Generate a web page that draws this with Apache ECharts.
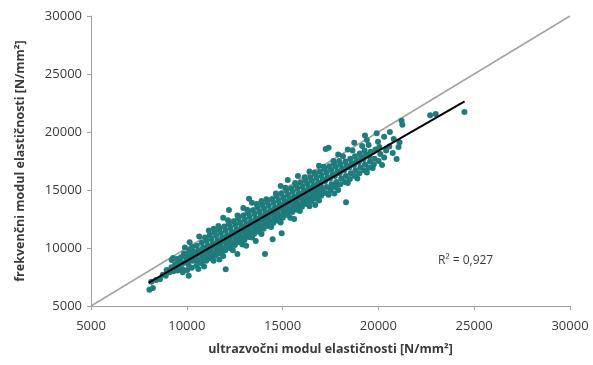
<!DOCTYPE html>
<html>
<head>
<meta charset="utf-8">
<script src="https://cdn.jsdelivr.net/npm/echarts@6/dist/echarts.min.js"></script>
<style>
  html, body { margin: 0; padding: 0; background: #fff; }
  #main { width: 593px; height: 365px; }
</style>
</head>
<body>
<div id="main"></div>
<script>
// axis ticks
var axisTicks = [5000, 10000, 15000, 20000, 25000, 30000];

// measured points [ultrazvočni, frekvenčni]
var points = [
  [8050,6400],[8230,6560],[8150,7100],[8400,7250],[8600,7300],[8750,7700],[8900,7600],[8950,8100],
  [9100,7900],[9200,8350],[9300,8000],[9400,8600],[9450,8250],[9210,8970],[9280,9140],
  [9520,8050],[9580,8550],[9490,9050],[9620,8800],
  [9760,8200],[9810,8700],[9700,9200],[9850,9500],[9790,7900],
  [10020,8100],[10080,8600],[9980,9100],[10050,9450],[10110,9800],[10000,8850],
  [10260,8300],[10300,8900],[10220,9300],[10330,9700],[10280,10100],[10200,9050],
  [10510,8500],[10550,9000],[10480,9450],[10600,9800],[10520,10200],[10450,9250],[10570,8750],
  [10760,8700],[10800,9300],[10730,9700],[10850,10050],[10780,10450],[10700,9500],[10820,8900],
  [11010,8900],[11060,9400],[10980,9850],[11100,10200],[11030,10600],[10950,10900],[11080,9150],[11000,9600],
  [11260,9100],[11300,9600],[11220,10050],[11350,10400],[11280,10800],[11200,11100],[11320,9350],[11240,9850],
  [11510,9350],[11560,9850],[11480,10300],[11600,10650],[11530,11050],[11450,11350],[11570,9600],[11490,10100],
  [11760,9550],[11800,10050],[11730,10500],[11850,10900],[11780,11300],[11700,11600],[11820,9800],[11740,10300],
  [12010,9800],[12060,10300],[11980,10750],[12100,11100],[12030,11500],[11950,11850],[12080,10050],[12000,10550],[12030,8160],
  [12260,10000],[12300,10500],[12220,11000],[12350,11350],[12280,11750],[12200,12050],[12320,10250],[12240,10750],[12200,13280],
  [12510,10250],[12560,10750],[12480,11250],[12600,11600],[12530,12000],[12450,12300],[12570,10500],[12490,11000],[12640,9480],
  [12760,10500],[12800,11000],[12730,11450],[12850,11850],[12780,12200],[12700,12550],[12820,10750],[12740,11250],
  [13010,10700],[13060,11200],[12980,11700],[13100,12100],[13030,12450],[12950,12800],[13080,10950],[13000,11450],
  [13260,10950],[13300,11450],[13220,11950],[13350,12300],[13280,12700],[13200,13000],[13320,11200],[13240,11700],[13250,14250],
  [13510,11200],[13560,11700],[13480,12200],[13600,12550],[13530,12950],[13450,13250],[13570,11450],[13490,11950],
  [13760,11400],[13800,11950],[13730,12400],[13850,12800],[13780,13150],[13700,13500],[13820,11650],[13740,12150],
  [14010,11650],[14060,12150],[13980,12650],[14100,13050],[14030,13400],[13950,13700],[14080,11900],[14000,12400],[14080,9480],
  [14260,11900],[14300,12400],[14220,12900],[14350,13250],[14280,13650],[14200,13950],[14320,12150],[14240,12650],
  [14510,12150],[14560,12650],[14480,13100],[14600,13500],[14530,13900],[14450,14200],[14570,12400],[14490,12900],[14480,10750],
  [14760,12350],[14800,12850],[14730,13350],[14850,13750],[14780,14100],[14700,14450],[14820,12600],[14740,13100],
  [15010,12600],[15060,13100],[14980,13600],[15100,14000],[15030,14350],[14950,14700],[15080,12850],[15000,13350],[14950,11270],
  [15260,12850],[15300,13350],[15220,13850],[15350,14250],[15280,14600],[15200,14950],[15320,13100],[15240,13600],[15270,15860],
  [15510,13100],[15560,13600],[15480,14100],[15600,14450],[15530,14850],[15450,15150],[15570,13350],[15490,13850],
  [15760,13300],[15800,13800],[15730,14300],[15850,14700],[15780,15100],[15700,15400],[15820,13550],[15740,14050],
  [16010,13550],[16060,14050],[15980,14550],[16100,14950],[16030,15300],[15950,15650],[16080,13800],[16000,14300],
  [16260,13800],[16300,14300],[16220,14800],[16350,15200],[16280,15550],[16200,15850],[16320,14050],[16240,14550],
  [16510,14050],[16560,14550],[16480,15000],[16600,15400],[16530,15800],[16450,16100],[16570,14300],[16490,14800],
  [16760,14250],[16800,14800],[16730,15250],[16850,15650],[16780,16050],[16700,16350],[16820,14500],[16740,15000],
  [17010,14500],[17060,15000],[16980,15500],[17100,15900],[17030,16250],[16950,16600],[17080,14750],[17000,15250],
  [17260,14750],[17300,15250],[17220,15750],[17350,16100],[17280,16500],[17200,16800],[17250,18530],[17400,18650],
  [17510,15000],[17560,15500],[17480,16000],[17600,16350],[17530,16750],[17450,17050],[17570,15250],
  [17760,15250],[17800,15700],[17730,16200],[17850,16600],[17780,17000],[17700,17250],[17820,15500],
  [18010,15500],[18060,16000],[17980,16450],[18100,16850],[18030,17200],[17950,17500],
  [18260,15700],[18300,16200],[18220,16700],[18350,17100],[18280,17450],[18310,13940],
  [18510,15950],[18560,16450],[18480,16950],[18600,17300],[18530,17700],
  [18760,16200],[18800,16700],[18730,17150],[18850,17550],[18740,19080],[18780,17900],
  [19010,16450],[19060,16950],[18980,17400],[19100,17800],[19030,18150],
  [19260,16700],[19300,17200],[19220,17650],[19350,18050],[19280,18400],
  [19490,18880],[19510,16950],[19560,17450],[19600,18300],[19530,17900],
  [19760,17200],[19800,17700],[19910,19890],[19850,18500],[19980,19160],
  [20010,17500],[20100,18100],[20190,17160],[20050,18700],
  [20300,17800],[20400,18400],[20570,18740],[20600,20000],
  [20750,18200],[20950,17670],[21100,19110],[21210,20970],[21250,20630],[21050,18700],
  [22700,21440],[22990,21550],[24490,21720],
  // lower edge of the cloud
  [10100,7600],[10900,8400],[11400,8900],[11900,9300],[12400,9800],[12900,10300],[13400,10900],[13900,11200],
  [14400,11800],[14900,12200],[15400,12600],[15900,13200],[16400,13600],[16900,14100],[17400,14600],[17900,15000],
  [18400,15600],[18900,16000],[19400,16500],
  // upper edge of the cloud
  [10150,10500],[10650,11000],[11150,11500],[11650,11900],[12150,12400],[12650,12800],[13150,13300],[13650,13800],
  [14150,14200],[14650,14700],[15150,15200],[15650,15600],[16150,16100],[16650,16500],[17150,17000],[17650,17500],
  [18150,17900],[18650,18400],[19150,18800],
  // scattered extras
  [9900,10050],[11400,11650],[12950,13450],[13900,14050],[14900,15350],[16400,16600],[17900,18050],[19400,19300],
  [10600,8200],[11700,9000],[13100,10200],[13600,10600],[15600,12500],[16700,13700],[17700,14700],[19700,16900],
  [11900,12600],[13400,13900],[15800,16200],[16900,17100],[18400,18500],[20300,19600],[20800,19400],[19300,19700]
];

// linear fit end points and the 1:1 line
var fitLine = [[8000, 7000], [24500, 22650]];
var identityLine = [[5000, 5000], [30000, 30000]];
var r2Text = 'R² = 0,927';

var myChart = echarts.init(document.getElementById('main'));

var labelFont = {
  fontFamily: 'Open Sans',
  fontSize: 13,
  color: '#3a3a3a',
  formatter: function (v) { return String(v); }
};

var nameFont = {
  fontFamily: 'Open Sans',
  fontSize: 12.5,
  fontWeight: 'bold',
  color: '#3a3a3a'
};

option = {
  animation: false,
  backgroundColor: '#fff',
  grid: {
    left: 91,
    right: 23,
    top: 16,
    bottom: 59
  },
  xAxis: {
    type: 'value',
    min: axisTicks[0],
    max: axisTicks[axisTicks.length - 1],
    interval: 5000,
    name: 'ultrazvočni modul elastičnosti [N/mm²]',
    nameLocation: 'middle',
    nameGap: 37,
    nameTextStyle: nameFont,
    axisLine: { lineStyle: { color: '#a0a0a0' } },
    axisTick: { show: true, length: 4, lineStyle: { color: '#a0a0a0' } },
    axisLabel: Object.assign({ margin: 14 }, labelFont),
    splitLine: { show: false }
  },
  yAxis: {
    type: 'value',
    min: axisTicks[0],
    max: axisTicks[axisTicks.length - 1],
    interval: 5000,
    name: 'frekvenčni modul elastičnosti [N/mm²]',
    nameLocation: 'middle',
    nameGap: 64,
    nameTextStyle: nameFont,
    axisLine: { show: true, lineStyle: { color: '#a0a0a0' } },
    axisTick: { show: true, length: 4, lineStyle: { color: '#a0a0a0' } },
    axisLabel: Object.assign({ margin: 9 }, labelFont),
    splitLine: { show: false }
  },
  graphic: [{
    type: 'text',
    left: 438,
    top: 255,
    style: {
      text: r2Text,
      fontFamily: 'Open Sans',
      fontSize: 12,
      fill: '#3a3a3a'
    }
  }],
  series: [{
    name: '1:1',
    type: 'line',
    data: identityLine,
    symbol: 'none',
    lineStyle: { color: '#a3a3a3', width: 1.5 },
    z: 1
  }, {
    name: 'meritve',
    type: 'scatter',
    data: points,
    symbolSize: 6,
    itemStyle: { color: '#1f7c7d', opacity: 1 },
    z: 2
  }, {
    name: 'trend',
    type: 'line',
    data: fitLine,
    symbol: 'none',
    lineStyle: { color: '#000', width: 2 },
    z: 3
  }]
};

myChart.setOption(option);
</script>
</body>
</html>
